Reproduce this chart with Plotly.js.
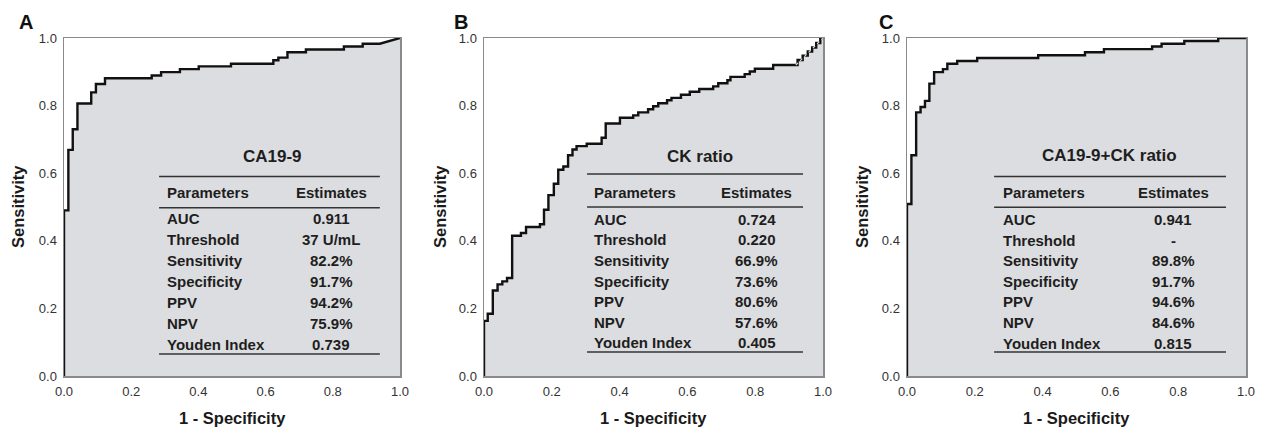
<!DOCTYPE html>
<html><head><meta charset="utf-8">
<script src="https://cdn.plot.ly/plotly-3.0.1.min.js"></script>
<style>html,body{margin:0;padding:0;background:#fff}#chart{width:1262px;height:430px}</style>
</head><body><div id="chart"></div>
<script>
// ---------- Data ----------
// Each ROC curve: at x = step_x[i] the curve jumps up to level step_y[i]; tail = x where the last level ends
const stepA_x = [0, 0.013, 0.026, 0.04, 0.081, 0.095, 0.122, 0.261, 0.289, 0.345, 0.401, 0.497, 0.623, 0.638, 0.665, 0.72, 0.833, 0.889];
const stepA_y = [0.49, 0.669, 0.73, 0.806, 0.839, 0.864, 0.881, 0.889, 0.899, 0.908, 0.916, 0.924, 0.934, 0.942, 0.958, 0.966, 0.975, 0.983];
const tailA = 0.94;

const stepB_x = [0, 0.011, 0.026, 0.04, 0.054, 0.068, 0.083, 0.109, 0.124, 0.165, 0.177, 0.19, 0.206, 0.219, 0.234, 0.248, 0.261, 0.273, 0.303, 0.347, 0.359, 0.401, 0.44, 0.455, 0.484, 0.499, 0.514, 0.54, 0.553, 0.581, 0.607, 0.635, 0.676, 0.691, 0.718, 0.727, 0.769, 0.784, 0.799, 0.853, 0.925, 0.94, 0.955, 0.968, 0.98, 0.992];
const stepB_y = [0.163, 0.184, 0.253, 0.271, 0.28, 0.29, 0.415, 0.423, 0.441, 0.449, 0.492, 0.535, 0.569, 0.61, 0.62, 0.653, 0.67, 0.68, 0.687, 0.705, 0.747, 0.764, 0.771, 0.78, 0.789, 0.798, 0.807, 0.816, 0.823, 0.832, 0.841, 0.849, 0.857, 0.866, 0.875, 0.885, 0.893, 0.901, 0.909, 0.92, 0.935, 0.948, 0.96, 0.972, 0.985, 1.0];
const tailB = 1.0;
const refLineB = [0.92, 1.0];

const stepC_x = [0, 0.013, 0.027, 0.04, 0.053, 0.066, 0.08, 0.106, 0.119, 0.148, 0.207, 0.387, 0.525, 0.581, 0.723, 0.751, 0.818, 0.918];
const stepC_y = [0.509, 0.653, 0.78, 0.796, 0.814, 0.865, 0.899, 0.908, 0.924, 0.932, 0.941, 0.949, 0.958, 0.967, 0.975, 0.983, 0.991, 1.0];
const tailC = 1.0;

const tickVals = [0, 0.2, 0.4, 0.6, 0.8, 1.0];
const tickLabels = ['0.0', '0.2', '0.4', '0.6', '0.8', '1.0'];

const panelLetters = ['A', 'B', 'C'];
const tableTitles = ['CA19-9', 'CK ratio', 'CA19-9+CK ratio'];
const headerLabels = ['Parameters', 'Estimates'];
const paramNames = ['AUC', 'Threshold', 'Sensitivity', 'Specificity', 'PPV', 'NPV', 'Youden Index'];
const estimatesA = ['0.911', '37 U/mL', '82.2%', '91.7%', '94.2%', '75.9%', '0.739'];
const estimatesB = ['0.724', '0.220', '66.9%', '73.6%', '80.6%', '57.6%', '0.405'];
const estimatesC = ['0.941', '-', '89.8%', '91.7%', '94.6%', '84.6%', '0.815'];
const xTitle = '1 - Specificity';
const yTitle = 'Sensitivity';

// ---------- Layout geometry (pixels / data-space positions) ----------
const W = 1262, H = 430;
const FONT = 'Liberation Sans, Arial, Helvetica, sans-serif';
const panels = [
  {px0: 64, px1: 400, steps: [stepA_x, stepA_y, tailA], est: estimatesA,
   tbl: {tx: 0.622, ty: 0.65, lx0: 0.283, lx1: 0.94, top: 0.59, head: 0.543, mid: 0.498, row0: 0.466, step: 0.0623, bot: 0.065, px: 0.30, vx: 0.795},
   letterX: 26, yTitleX: 18},
  {px0: 484, px1: 823, steps: [stepB_x, stepB_y, tailB], est: estimatesB,
   tbl: {tx: 0.637, ty: 0.65, lx0: 0.304, lx1: 0.941, top: 0.598, head: 0.544, mid: 0.50, row0: 0.464, step: 0.061, bot: 0.071, px: 0.32, vx: 0.805},
   letterX: 461, yTitleX: 440},
  {px0: 907, px1: 1246, steps: [stepC_x, stepC_y, tailC], est: estimatesC,
   tbl: {tx: 0.596, ty: 0.652, lx0: 0.257, lx1: 0.941, top: 0.59, head: 0.543, mid: 0.499, row0: 0.463, step: 0.061, bot: 0.071, px: 0.277, vx: 0.785},
   letterX: 886, yTitleX: 862}
];
const plotTop = 38, plotBot = 376;

function buildPath(sx, sy, tail) {
  const xs = [0], ys = [0];
  let prev = 0;
  for (let i = 0; i < sx.length; i++) {
    xs.push(sx[i]); ys.push(prev);
    xs.push(sx[i]); ys.push(sy[i]);
    prev = sy[i];
  }
  xs.push(tail); ys.push(prev);
  if (tail < 1 || prev < 1) { xs.push(1); ys.push(1); }
  return [xs, ys];
}

const data = [];
const layout = {
  width: W, height: H,
  margin: {l: 0, r: 0, t: 0, b: 0},
  paper_bgcolor: '#ffffff', plot_bgcolor: '#ffffff',
  showlegend: false,
  shapes: [], annotations: []
};

panels.forEach((p, i) => {
  const sfx = i === 0 ? '' : String(i + 1);
  const xa = 'x' + sfx, ya = 'y' + sfx;
  const [xs, ys] = buildPath(p.steps[0], p.steps[1], p.steps[2]);
  data.push({
    x: xs, y: ys, xaxis: xa, yaxis: ya, mode: 'lines', type: 'scatter',
    line: {color: '#111111', width: 2.4},
    fill: 'tozeroy', fillcolor: '#dcdde0', hoverinfo: 'skip'
  });
  const axCommon = {
    range: [0, 1], tickvals: tickVals, ticktext: tickLabels,
    showgrid: false, zeroline: false, showline: true, mirror: true,
    linecolor: '#8a8a8a', linewidth: 1.5,
    ticks: 'outside', ticklen: 3, tickcolor: 'rgba(0,0,0,0)',
    tickfont: {family: FONT, size: 13, color: '#333333'}, fixedrange: true
  };
  layout['xaxis' + sfx] = Object.assign({}, axCommon, {
    domain: [p.px0 / W, p.px1 / W], anchor: ya
  });
  layout['yaxis' + sfx] = Object.assign({}, axCommon, {
    domain: [(H - plotBot) / H, (H - plotTop) / H], anchor: xa
  });

  // panel letter
  layout.annotations.push({xref: 'paper', yref: 'paper', x: p.letterX / W, y: 1 - 22 / H,
    text: '<b>' + panelLetters[i] + '</b>', showarrow: false, xanchor: 'center', yanchor: 'middle',
    font: {family: FONT, size: 20, color: '#111'}});
  // axis titles
  layout.annotations.push({xref: 'paper', yref: 'paper', x: (p.px0 + p.px1) / 2 / W, y: 1 - 418 / H,
    text: '<b>' + xTitle + '</b>', showarrow: false, xanchor: 'center', yanchor: 'middle',
    font: {family: FONT, size: 16.5, color: '#1a1a1a'}});
  layout.annotations.push({xref: 'paper', yref: 'paper', x: p.yTitleX / W, y: 1 - (plotTop + plotBot) / 2 / H,
    text: '<b>' + yTitle + '</b>', showarrow: false, textangle: -90, xanchor: 'center', yanchor: 'middle',
    font: {family: FONT, size: 16.5, color: '#1a1a1a'}});

  // table
  const t = p.tbl;
  const tf = {family: FONT, size: 15, color: '#1e1e1e'};
  layout.annotations.push({xref: xa, yref: ya, x: t.tx, y: t.ty, text: '<b>' + tableTitles[i] + '</b>',
    showarrow: false, xanchor: 'center', yanchor: 'middle', font: {family: FONT, size: 17, color: '#1e1e1e'}});
  [t.top, t.mid, t.bot].forEach(yy => {
    layout.shapes.push({type: 'line', xref: xa, yref: ya, x0: t.lx0, x1: t.lx1, y0: yy, y1: yy,
      line: {color: '#333333', width: 1.5}});
  });
  layout.annotations.push({xref: xa, yref: ya, x: t.px, y: t.head, text: '<b>' + headerLabels[0] + '</b>',
    showarrow: false, xanchor: 'left', yanchor: 'middle', font: tf});
  layout.annotations.push({xref: xa, yref: ya, x: t.vx, y: t.head, text: '<b>' + headerLabels[1] + '</b>',
    showarrow: false, xanchor: 'center', yanchor: 'middle', font: tf});
  paramNames.forEach((nm, r) => {
    const yy = t.row0 - r * t.step;
    layout.annotations.push({xref: xa, yref: ya, x: t.px, y: yy, text: '<b>' + nm + '</b>',
      showarrow: false, xanchor: 'left', yanchor: 'middle', font: tf});
    layout.annotations.push({xref: xa, yref: ya, x: t.vx, y: yy, text: '<b>' + p.est[r] + '</b>',
      showarrow: false, xanchor: 'center', yanchor: 'middle', font: tf});
  });
});

// faint dashed reference segment visible where curve B meets the diagonal
data.push({x: refLineB, y: refLineB, xaxis: 'x2', yaxis: 'y2', mode: 'lines', type: 'scatter',
  line: {color: '#d8d8d8', width: 1.2, dash: 'dot'}, hoverinfo: 'skip'});

Plotly.newPlot('chart', data, layout, {displayModeBar: false, staticPlot: true});
</script>
</body></html>
